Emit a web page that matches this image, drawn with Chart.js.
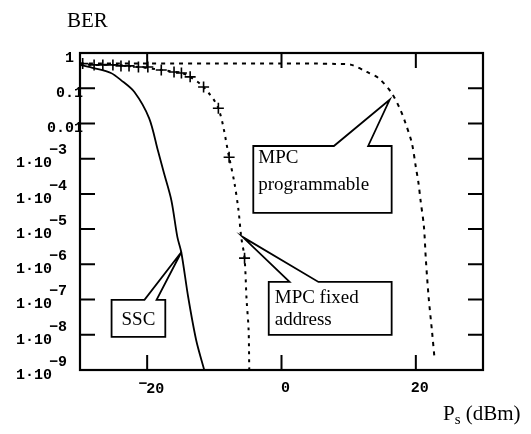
<!DOCTYPE html>
<html>
<head>
<meta charset="utf-8">
<script src="https://cdn.jsdelivr.net/npm/chart.js@4/dist/chart.umd.min.js"></script>
<style>
  html, body { margin: 0; padding: 0; background: #fff; }
</style>
</head>
<body>
<canvas id="berChart" width="531" height="434"></canvas>
<script>
// BER curves vs received power Ps (dBm)
const sscX = [-30, -27.9, -25.4, -23.9, -21.9, -19.7, -18.4, -17.5, -16.4, -15.5, -14.9, -13.9, -12.7, -11.5];
const sscY = [0.46, 0.37, 0.27, 0.17, 0.078, 0.014, 1.7e-3, 3.9e-4, 6.6e-5, 5.9e-6, 2.1e-6, 1.2e-7, 7e-9, 1e-9];

const progX = [-30, -10, 0, 5, 8, 10.4, 12.7, 14.5, 16.4, 17.6, 18.4, 19.4, 20.0, 20.4, 20.7, 21.2, 21.5, 21.9, 22.4, 22.8];
const progY = [0.5, 0.5, 0.5, 0.5, 0.49, 0.46, 0.29, 0.19, 0.073, 0.027, 0.011, 2.8e-3, 5.8e-4, 2e-4, 6.6e-5, 1.2e-5, 1.3e-6, 1.2e-7, 1.3e-8, 2e-9];

// fixed address: crosses are the measured points, the dotted line runs on past them
const fixedMarkX = [-29.6, -27.9, -26.6, -25.1, -23.9, -22.7, -21.3, -19.9, -17.9, -16.0, -14.9, -13.6, -11.6, -9.4, -7.8, -5.5];
const fixedMarkY = [0.5, 0.46, 0.46, 0.46, 0.43, 0.43, 0.4, 0.4, 0.33, 0.29, 0.27, 0.21, 0.108, 0.027, 1.1e-3, 1.5e-6];
const fixedLineX = [-30, -27.9, -25.1, -21.3, -17.9, -14.9, -13.6, -11.6, -9.4, -7.8, -7.0, -6.4, -6.0, -5.5, -5.2, -4.9, -4.8];
const fixedLineY = [0.5, 0.46, 0.46, 0.4, 0.33, 0.27, 0.21, 0.108, 0.027, 1.1e-3, 2e-4, 3.4e-5, 6e-6, 1.5e-6, 1e-7, 1.4e-8, 1e-9];

const xTicks = [-20, 0, 20];
const xTickLabels = ['\u221220', '0', '20'];
const yTicks = [1, 0.1, 0.01, 1e-3, 1e-4, 1e-5, 1e-6, 1e-7, 1e-8, 1e-9];
const yTickBase = ['1', '0.1', '0.01', '1\u00b710', '1\u00b710', '1\u00b710', '1\u00b710', '1\u00b710', '1\u00b710', '1\u00b710'];
const yTickExp = ['', '', '', '\u22123', '\u22124', '\u22125', '\u22126', '\u22127', '\u22128', '\u22129'];

// callouts: box corners and pointer tip in data units (x in dBm, y as log10 BER)
const callouts = [
  { lines: ['MPC', 'programmable'], box: [-4.2, 16.4, -2.64, -4.54], base: [7.8, 12.9], tip: [16.1, -1.33], textDx: 5, textDy: [12, 39], center: false },
  { lines: ['MPC fixed', 'address'], box: [-1.9, 16.4, -6.5, -8.0], base: [1.2, 5.5], tip: [-5.8, -5.22], textDx: 6, textDy: [16, 38], center: false },
  { lines: ['SSC'], box: [-25.3, -17.3, -7.01, -8.06], base: [-20.4, -18.6], tip: [-14.9, -5.65], textDx: 0, textDy: [20], center: true }
];

const toPts = (xs, ys) => xs.map((v, i) => ({ x: v, y: ys[i] }));

const monoFont = 'bold 15px "Liberation Mono", "DejaVu Sans Mono", monospace';
const serifFont = '19px "Liberation Serif", "DejaVu Serif", serif';

const framePlugin = {
  id: 'frame',
  afterDatasetsDraw(chart) {
    const { ctx, chartArea: a, scales: { x, y } } = chart;
    ctx.save();
    ctx.strokeStyle = '#000';
    ctx.fillStyle = '#000';

    // callout boxes with pointers
    callouts.forEach(c => {
      const l = x.getPixelForValue(c.box[0]), r = x.getPixelForValue(c.box[1]);
      const t = y.getPixelForValue(Math.pow(10, c.box[2])), b = y.getPixelForValue(Math.pow(10, c.box[3]));
      const b1 = x.getPixelForValue(c.base[0]), b2 = x.getPixelForValue(c.base[1]);
      const tx = x.getPixelForValue(c.tip[0]), ty = y.getPixelForValue(Math.pow(10, c.tip[1]));
      ctx.beginPath();
      ctx.moveTo(l, t);
      ctx.lineTo(b1, t);
      ctx.lineTo(tx, ty);
      ctx.lineTo(b2, t);
      ctx.lineTo(r, t);
      ctx.lineTo(r, b);
      ctx.lineTo(l, b);
      ctx.closePath();
      ctx.fillStyle = '#fff';
      ctx.fill();
      ctx.lineWidth = 1.8;
      ctx.stroke();
      ctx.fillStyle = '#000';
      ctx.font = serifFont;
      ctx.textBaseline = 'middle';
      c.lines.forEach((s, i) => {
        if (c.center) {
          ctx.textAlign = 'center';
          ctx.fillText(s, (l + r) / 2, t + c.textDy[i]);
        } else {
          ctx.textAlign = 'left';
          ctx.fillText(s, l + c.textDx, t + c.textDy[i]);
        }
      });
    });

    // frame
    ctx.lineWidth = 2.2;
    ctx.strokeRect(a.left, a.top, a.right - a.left, a.bottom - a.top);

    // inward ticks
    const tl = 15;
    ctx.lineWidth = 2;
    ctx.beginPath();
    yTicks.forEach(v => {
      const py = y.getPixelForValue(v);
      ctx.moveTo(a.left, py); ctx.lineTo(a.left + tl, py);
      ctx.moveTo(a.right, py); ctx.lineTo(a.right - tl, py);
    });
    xTicks.forEach(v => {
      const px = x.getPixelForValue(v);
      ctx.moveTo(px, a.bottom); ctx.lineTo(px, a.bottom - tl);
      ctx.moveTo(px, a.top); ctx.lineTo(px, a.top + tl);
    });
    ctx.stroke();

    // y tick labels
    ctx.font = monoFont;
    ctx.textBaseline = 'middle';
    yTicks.forEach((v, i) => {
      const py = y.getPixelForValue(v);
      if (yTickExp[i]) {
        ctx.textAlign = 'right';
        ctx.fillText(yTickExp[i], a.left - 13, py - 8);
        const ew = ctx.measureText(yTickExp[i]).width;
        ctx.fillText(yTickBase[i], a.left - 13 - ew + 3, py + 5);
      } else {
        ctx.textAlign = 'right';
        ctx.fillText(yTickBase[i], i === 0 ? a.left - 6 : a.left + 3, py + 5);
      }
    });

    // x tick labels (minus sign sits raised)
    xTicks.forEach((v, i) => {
      const px = x.getPixelForValue(v) + 4;
      const s = xTickLabels[i];
      if (s.charAt(0) === '\u2212') {
        const num = s.slice(1);
        const w = ctx.measureText(num).width;
        ctx.textAlign = 'left';
        ctx.fillText(num, px - w / 2 + 4, a.bottom + 19);
        ctx.textAlign = 'right';
        ctx.fillText('\u2212', px - w / 2 + 5, a.bottom + 14);
      } else {
        ctx.textAlign = 'center';
        ctx.fillText(s, px, a.bottom + 18);
      }
    });

    // axis titles
    ctx.font = '21px "Liberation Serif", "DejaVu Serif", serif';
    ctx.textAlign = 'left';
    ctx.fillText('BER', 67, 21);
    ctx.fillText('P', 443, 414);
    const pw = ctx.measureText('P').width;
    ctx.font = '15px "Liberation Serif", "DejaVu Serif", serif';
    ctx.fillText('s', 443 + pw, 420);
    const sw = ctx.measureText('s').width;
    ctx.font = '21px "Liberation Serif", "DejaVu Serif", serif';
    ctx.fillText(' (dBm)', 443 + pw + sw, 414);

    ctx.restore();
  }
};

new Chart(document.getElementById('berChart'), {
  type: 'scatter',
  data: {
    datasets: [
      {
        label: 'SSC',
        data: toPts(sscX, sscY),
        showLine: true,
        borderColor: '#000',
        borderWidth: 1.8,
        pointRadius: 0,
        tension: 0.3
      },
      {
        label: 'MPC programmable',
        data: toPts(progX, progY),
        showLine: true,
        borderColor: '#000',
        borderWidth: 2,
        borderDash: [4, 5],
        pointRadius: 0,
        tension: 0.3
      },
      {
        label: 'MPC fixed address',
        data: toPts(fixedLineX, fixedLineY),
        showLine: true,
        borderColor: '#000',
        borderWidth: 2,
        borderDash: [3, 5],
        pointRadius: 0,
        tension: 0.3
      },
      {
        label: 'MPC fixed address (points)',
        data: toPts(fixedMarkX, fixedMarkY),
        showLine: false,
        pointStyle: 'cross',
        pointRadius: 5.5,
        borderColor: '#000',
        pointBorderWidth: 1.6
      }
    ]
  },
  options: {
    responsive: false,
    animation: false,
    layout: { padding: { left: 80, top: 53, right: 48, bottom: 64 } },
    plugins: { legend: { display: false }, tooltip: { enabled: false } },
    scales: {
      x: { type: 'linear', min: -30, max: 30, display: false },
      y: { type: 'logarithmic', min: 1e-9, max: 1, display: false }
    }
  },
  plugins: [framePlugin]
});
</script>
</body>
</html>
